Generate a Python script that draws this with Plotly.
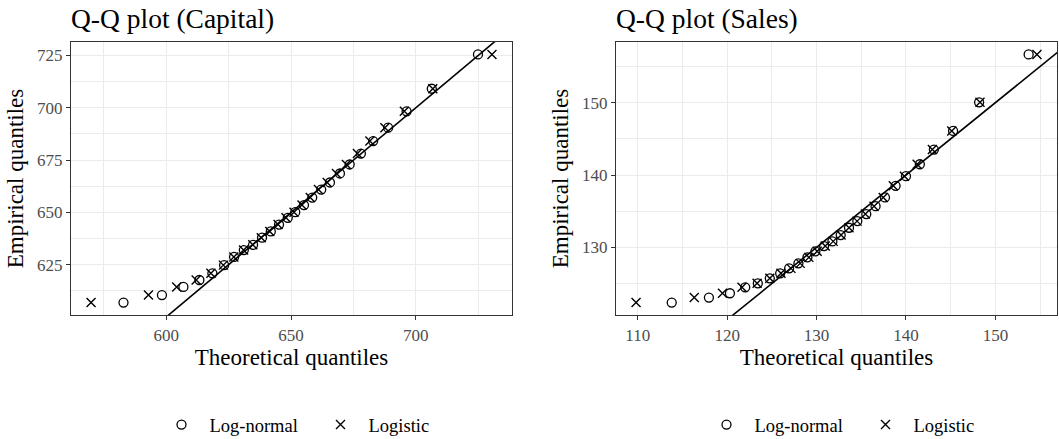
import plotly.graph_objects as go

# ---- data ----
cap_emp = [606.9, 610.5, 614.4, 617.7, 620.9, 624.8, 628.7, 632.0, 634.5, 637.9, 640.9, 644.2, 647.4,
           650.1, 653.5, 657.1, 660.9, 664.3, 668.6, 672.9, 678.1, 684.1, 690.5, 698.3, 709.1, 725.5]
cap_lnorm = [582.9, 598.3, 606.9, 613.3, 618.5, 623.2, 627.2, 631.1, 634.8, 638.4, 641.9, 645.2, 648.7,
             651.7, 655.2, 658.5, 662.1, 665.6, 669.6, 673.5, 678.0, 682.9, 688.9, 696.3, 706.4, 724.9]
cap_logis = [569.9, 592.9, 604.2, 612.0, 617.9, 622.9, 627.1, 631.0, 634.7, 638.1, 641.5, 644.8, 648.0,
             651.2, 654.4, 657.7, 661.0, 664.5, 668.2, 672.2, 676.6, 681.6, 687.6, 695.4, 706.8, 730.5]

sal_emp = [122.37, 123.06, 123.66, 124.48, 125.03, 125.72, 126.41, 127.10, 127.79, 128.62, 129.45, 130.18, 130.83,
           131.70, 132.71, 133.63, 134.60, 135.70, 136.90, 138.51, 139.84, 141.49, 143.52, 146.09, 150.05, 156.67]
sal_lnorm = [113.80, 117.96, 120.31, 122.02, 123.43, 124.77, 125.93, 126.93, 127.97, 128.98, 129.87, 130.84, 131.77,
             132.70, 133.63, 134.56, 135.56, 136.60, 137.65, 138.84, 140.00, 141.55, 143.12, 145.27, 148.18, 153.72]
sal_logis = [109.81, 116.32, 119.48, 121.66, 123.35, 124.77, 126.02, 127.14, 128.17, 129.14, 130.07, 130.97, 131.86,
             132.74, 133.63, 134.53, 135.46, 136.43, 137.46, 138.58, 139.83, 141.25, 142.95, 145.12, 148.28, 154.65]

titles = ["Q-Q plot (Capital)", "Q-Q plot (Sales)"]
series_names = ["Log-normal", "Logistic"]

FONT = "Liberation Serif"
GRID = "#EBEBEB"
BORDER = "#333333"
TICKC = "#4D4D4D"


def expand(vals):
    lo, hi = min(vals), max(vals)
    pad = (hi - lo) * 0.05
    return [lo - pad, hi + pad]


fig = go.Figure()

panels = [
    (cap_emp, cap_lnorm, cap_logis, "x", "y", "legend", 50, 25),
    (sal_emp, sal_lnorm, sal_logis, "x2", "y2", "legend2", 10, 10),
]

ydom = [1 - 315 / 439, 1 - 42 / 439]
xdoms = [[71 / 1059, 512 / 1059], [616 / 1059, 1057 / 1059]]

for i, (emp, ln, lg, xa, ya, leg, xdt, ydt) in enumerate(panels):
    xr = expand(ln + lg)
    yr = expand(emp)
    lo = min(xr[0], yr[0]) - 10
    hi = max(xr[1], yr[1]) + 10
    fig.add_trace(go.Scatter(x=[lo, hi], y=[lo, hi], mode="lines", xaxis=xa, yaxis=ya,
                             line=dict(color="black", width=1.6), showlegend=False, hoverinfo="skip"))
    fig.add_trace(go.Scatter(x=ln, y=emp, mode="markers", name=series_names[0], xaxis=xa, yaxis=ya,
                             legend=leg,
                             marker=dict(symbol="circle-open", size=9, color="black", line=dict(width=1.3))))
    fig.add_trace(go.Scatter(x=lg, y=emp, mode="markers", name=series_names[1], xaxis=xa, yaxis=ya,
                             legend=leg,
                             marker=dict(symbol="x-thin-open", size=9, color="black", line=dict(width=1.4))))
    axcommon = dict(showline=True, mirror=True, linecolor=BORDER, linewidth=1.3,
                    ticks="outside", ticklen=4, tickcolor=BORDER, tickwidth=1.1,
                    showgrid=True, gridcolor=GRID, gridwidth=1.4, zeroline=False,
                    tickfont=dict(family=FONT, size=17, color=TICKC))
    sfx = "" if i == 0 else "2"
    fig.update_layout(**{
        "xaxis" + sfx: dict(axcommon, domain=xdoms[i], range=xr, dtick=xdt, anchor="y" + sfx,
                            minor=dict(showgrid=True, gridcolor=GRID, gridwidth=0.8, dtick=xdt / 2),
                            title=dict(text="Theoretical quantiles", font=dict(family=FONT, size=23, color="black"),
                                       standoff=4)),
        "yaxis" + sfx: dict(axcommon, domain=ydom, range=yr, dtick=ydt, anchor="x" + sfx,
                            minor=dict(showgrid=True, gridcolor=GRID, gridwidth=0.8, dtick=ydt / 2),
                            title=dict(text="Empirical quantiles", font=dict(family=FONT, size=23, color="black"),
                                       standoff=6)),
    })
    fig.add_annotation(text=titles[i], xref="paper", yref="paper", x=xdoms[i][0] - 2 / 1059, y=1 - 1 / 439,
                       xanchor="left", yanchor="top", showarrow=False,
                       font=dict(family=FONT, size=27.5, color="black"))

legcommon = dict(orientation="h", yanchor="middle", y=14 / 439, xanchor="center",
                 font=dict(family=FONT, size=18.5, color="black"), bgcolor="rgba(0,0,0,0)",
                 itemwidth=46, entrywidth=98)
fig.update_layout(
    legend=dict(legcommon, x=(71 + 512) / 2 / 1059 + 21 / 1059),
    legend2=dict(legcommon, x=(616 + 1057) / 2 / 1059 + 21 / 1059),
    width=1059, height=439,
    margin=dict(l=0, r=0, t=0, b=0, autoexpand=False),
    paper_bgcolor="white", plot_bgcolor="white",
    font=dict(family=FONT),
)

fig.write_html("out.html")
